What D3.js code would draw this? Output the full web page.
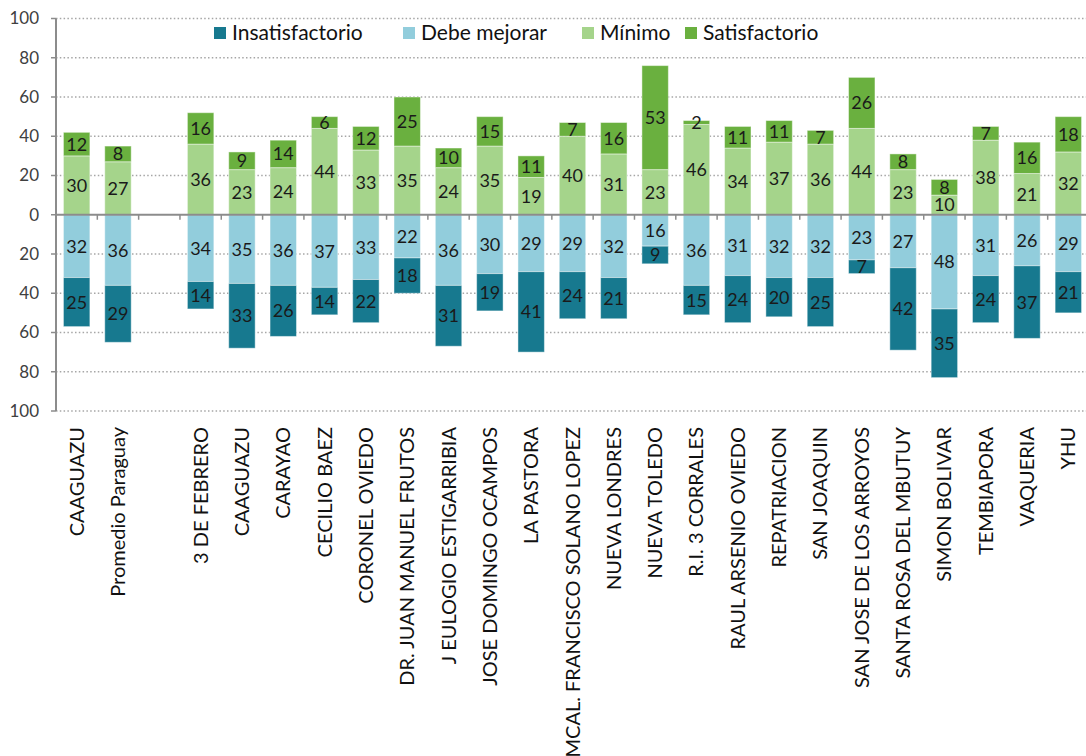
<!DOCTYPE html>
<meta charset="utf-8">
<style>
body { margin: 0; background: #fff; }
svg { font-family: Lato, "Open Sans", sans-serif; }
.grid line { stroke: #a6a6a6; stroke-width: 1.5; stroke-dasharray: 1.5,2.3; }
.tick-lbl { fill: #404040; font-size: 17px; }
.cat { fill: #111; font-size: 20px; }
.val { fill: #1a1a1a; font-size: 18px; }
.leg { fill: #111; font-size: 21px; }
</style>
<svg width="1086" height="756"></svg>
<script src="https://cdn.jsdelivr.net/npm/d3@7"></script>
<script>

// categories ("" = empty slot between the department and its districts)
var categories = ["CAAGUAZU", "Promedio Paraguay", "", "3 DE FEBRERO", "CAAGUAZU", "CARAYAO",
  "CECILIO BAEZ", "CORONEL OVIEDO", "DR. JUAN MANUEL FRUTOS", "J EULOGIO ESTIGARRIBIA",
  "JOSE DOMINGO OCAMPOS", "LA PASTORA", "MCAL. FRANCISCO SOLANO LOPEZ", "NUEVA LONDRES",
  "NUEVA TOLEDO", "R.I. 3 CORRALES", "RAUL ARSENIO OVIEDO", "REPATRIACION", "SAN JOAQUIN",
  "SAN JOSE DE LOS ARROYOS", "SANTA ROSA DEL MBUTUY", "SIMON BOLIVAR", "TEMBIAPORA",
  "VAQUERIA", "YHU"];

var insatisfactorio = [25, 29, null, 14, 33, 26, 14, 22, 18, 31, 19, 41, 24, 21, 9, 15, 24, 20, 25, 7, 42, 35, 24, 37, 21];
var debeMejorar     = [32, 36, null, 34, 35, 36, 37, 33, 22, 36, 30, 29, 29, 32, 16, 36, 31, 32, 32, 23, 27, 48, 31, 26, 29];
var minimo          = [30, 27, null, 36, 23, 24, 44, 33, 35, 24, 35, 19, 40, 31, 23, 46, 34, 37, 36, 44, 23, 10, 38, 21, 32];
var satisfactorio   = [12, 8, null, 16, 9, 14, 6, 12, 25, 10, 15, 11, 7, 16, 53, 2, 11, 11, 7, 26, 8, 8, 7, 16, 18];

var seriesNames = ["Insatisfactorio", "Debe mejorar", "Mínimo", "Satisfactorio"];
var yTicks = [-100, -80, -60, -40, -20, 0, 20, 40, 60, 80, 100];

var colors = {
  "Insatisfactorio": "#17798f",
  "Debe mejorar": "#92cddc",
  "Mínimo": "#a5d48b",
  "Satisfactorio": "#6ab03f"
};

var svg = d3.select("svg");
var plotL = 56, plotR = 1089, plotT = 18.5, plotB = 411;

var x = d3.scaleBand()
    .domain(d3.range(categories.length))
    .range([plotL, plotR])
    .paddingInner(0.36)
    .paddingOuter(0.18);

var y = d3.scaleLinear().domain([-100, 100]).range([plotB, plotT]);

// gridlines
svg.append("g").attr("class", "grid")
  .selectAll("line")
  .data(yTicks.filter(function(t) { return t !== 0; }))
  .enter().append("line")
    .attr("x1", plotL).attr("x2", 1086)
    .attr("y1", function(d) { return y(d); })
    .attr("y2", function(d) { return y(d); });

// build segments: negatives stacked downward from 0, positives upward
var segs = [];
categories.forEach(function(c, i) {
  if (insatisfactorio[i] == null) return;
  var d1 = debeMejorar[i], d0 = insatisfactorio[i];
  segs.push({i: i, s: "Debe mejorar", v: d1, y0: 0, y1: -d1});
  segs.push({i: i, s: "Insatisfactorio", v: d0, y0: -d1, y1: -d1 - d0});
  var m = minimo[i], s = satisfactorio[i];
  segs.push({i: i, s: "Mínimo", v: m, y0: 0, y1: m});
  segs.push({i: i, s: "Satisfactorio", v: s, y0: m, y1: m + s});
});

var bars = svg.append("g");
bars.selectAll("rect")
  .data(segs)
  .enter().append("rect")
    .attr("x", function(d) { return x(d.i); })
    .attr("width", x.bandwidth())
    .attr("y", function(d) { return y(Math.max(d.y0, d.y1)); })
    .attr("height", function(d) { return Math.abs(y(d.y0) - y(d.y1)); })
    .attr("fill", function(d) { return colors[d.s]; })
    .attr("stroke", "#fff")
    .attr("stroke-opacity", 0.45)
    .attr("stroke-width", 1);

bars.selectAll("text")
  .data(segs)
  .enter().append("text")
    .attr("class", "val")
    .attr("text-anchor", "middle")
    .attr("dy", "0.36em")
    .attr("x", function(d) { return x(d.i) + x.bandwidth() / 2; })
    .attr("y", function(d) { return y((d.y0 + d.y1) / 2); })
    .text(function(d) { return d.v; });

// axes
var axisColor = "#8c8c8c";
svg.append("line")
    .attr("x1", plotL).attr("x2", plotL)
    .attr("y1", plotT).attr("y2", plotB)
    .attr("stroke", axisColor).attr("stroke-width", 2);

svg.append("g").selectAll("line")
  .data(yTicks)
  .enter().append("line")
    .attr("x1", plotL - 5).attr("x2", plotL)
    .attr("y1", function(d) { return y(d); })
    .attr("y2", function(d) { return y(d); })
    .attr("stroke", axisColor).attr("stroke-width", 1.5);

svg.append("g").selectAll("text")
  .data(yTicks)
  .enter().append("text")
    .attr("class", "tick-lbl")
    .attr("text-anchor", "end")
    .attr("x", 39)
    .attr("y", function(d) { return y(d); })
    .attr("dy", "0.35em")
    .text(function(d) { return Math.abs(d); });

svg.append("line")
    .attr("x1", plotL).attr("x2", 1086)
    .attr("y1", y(0)).attr("y2", y(0))
    .attr("stroke", axisColor).attr("stroke-width", 2);

var step = x.step();
svg.append("g").selectAll("line")
  .data(d3.range(1, categories.length + 1))
  .enter().append("line")
    .attr("x1", function(d) { return x(d - 1) - x.paddingInner() * step / 2 + step; })
    .attr("x2", function(d) { return x(d - 1) - x.paddingInner() * step / 2 + step; })
    .attr("y1", y(0)).attr("y2", y(0) + 5)
    .attr("stroke", axisColor).attr("stroke-width", 1.5);

// category labels
svg.append("g").selectAll("text")
  .data(categories)
  .enter().append("text")
    .attr("class", "cat")
    .attr("text-anchor", "end")
    .attr("transform", function(d, i) {
      return "translate(" + (x(i) + x.bandwidth() / 2) + ",427) rotate(-90)";
    })
    .attr("dy", "0.35em")
    .text(function(d) { return d; });

// legend
var legX = [214, 403, 582, 685];
var leg = svg.append("g").selectAll("g")
  .data(seriesNames)
  .enter().append("g")
    .attr("transform", function(d, i) { return "translate(" + legX[i] + ",33)"; });
leg.append("rect")
    .attr("x", 0).attr("y", -6).attr("width", 12).attr("height", 12)
    .attr("fill", function(d) { return colors[d]; });
leg.append("text")
    .attr("class", "leg")
    .attr("x", 18).attr("dy", "0.35em")
    .text(function(d) { return d; });

</script>
